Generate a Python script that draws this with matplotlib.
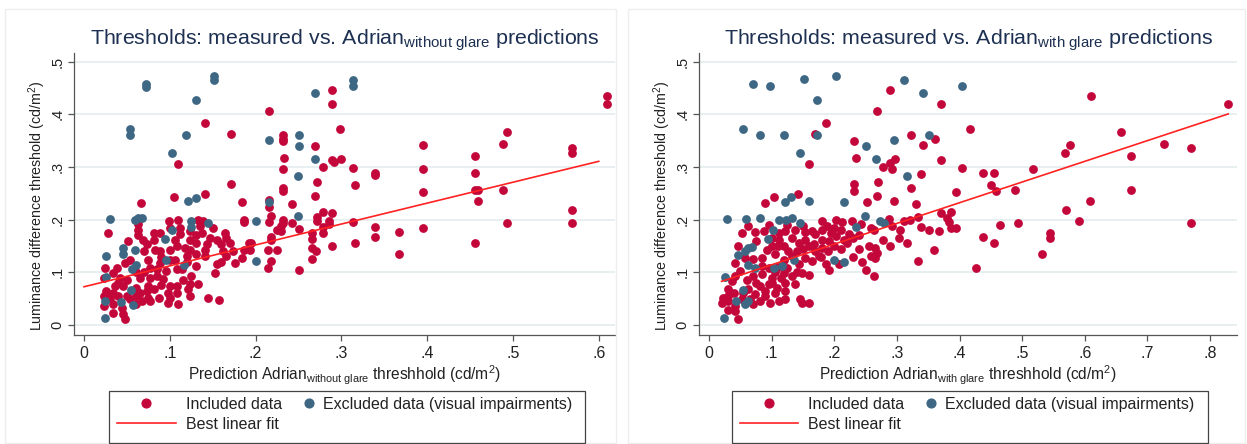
import numpy as np
import matplotlib
matplotlib.use("Agg")
import matplotlib.pyplot as plt
from matplotlib.lines import Line2D
from matplotlib.patches import Rectangle
from matplotlib.legend_handler import HandlerLine2D

plt.rcParams['font.family'] = ['Liberation Sans', 'DejaVu Sans']
plt.rcParams['mathtext.fontset'] = 'custom'
plt.rcParams['mathtext.rm'] = 'Liberation Sans'
plt.rcParams['mathtext.it'] = 'Liberation Sans:italic'

# measured threshold vs. Adrian prediction without glare, (prediction, measured)
left_included = [
    (0.289, 0.446), (0.289, 0.420), (0.216, 0.407), (0.298, 0.373), (0.232, 0.360), (0.232, 0.354),
    (0.232, 0.349), (0.269, 0.340), (0.233, 0.317), (0.291, 0.310), (0.289, 0.314), (0.299, 0.315),
    (0.279, 0.300), (0.313, 0.299), (0.232, 0.296), (0.339, 0.289), (0.339, 0.285), (0.395, 0.342),
    (0.395, 0.296), (0.395, 0.253), (0.395, 0.184), (0.456, 0.321), (0.456, 0.288), (0.456, 0.257),
    (0.459, 0.256), (0.459, 0.235), (0.456, 0.156), (0.488, 0.343), (0.493, 0.366), (0.488, 0.256),
    (0.493, 0.194), (0.569, 0.336), (0.569, 0.326), (0.569, 0.219), (0.569, 0.194), (0.610, 0.434),
    (0.610, 0.419), (0.272, 0.271), (0.316, 0.265), (0.232, 0.261), (0.232, 0.255), (0.269, 0.245),
    (0.216, 0.237), (0.216, 0.225), (0.242, 0.229), (0.218, 0.207), (0.216, 0.196), (0.232, 0.200),
    (0.232, 0.194), (0.230, 0.188), (0.230, 0.179), (0.242, 0.194), (0.225, 0.181), (0.251, 0.182),
    (0.272, 0.206), (0.272, 0.197), (0.279, 0.214), (0.289, 0.213), (0.285, 0.198), (0.285, 0.191),
    (0.279, 0.187), (0.279, 0.175), (0.266, 0.175), (0.266, 0.164), (0.313, 0.196), (0.339, 0.186),
    (0.339, 0.167), (0.367, 0.177), (0.367, 0.135), (0.316, 0.155), (0.289, 0.150), (0.218, 0.167),
    (0.218, 0.162), (0.195, 0.156), (0.214, 0.143), (0.225, 0.143), (0.266, 0.146), (0.271, 0.140),
    (0.266, 0.126), (0.218, 0.122), (0.214, 0.109), (0.251, 0.105),
    (0.141, 0.384), (0.171, 0.362),
    (0.110, 0.305), (0.171, 0.268), (0.141, 0.248), (0.105, 0.244), (0.066, 0.231), (0.184, 0.234),
    (0.186, 0.195), (0.186, 0.200), (0.099, 0.197), (0.110, 0.199), (0.133, 0.200), (0.139, 0.198),
    (0.028, 0.175), (0.063, 0.191), (0.063, 0.181), (0.063, 0.170), (0.081, 0.175), (0.088, 0.175),
    (0.112, 0.184), (0.112, 0.172), (0.100, 0.184), (0.123, 0.178), (0.135, 0.188), (0.137, 0.175),
    (0.164, 0.175), (0.147, 0.165), (0.155, 0.162), (0.160, 0.153), (0.166, 0.165), (0.051, 0.159),
    (0.069, 0.162), (0.073, 0.153), (0.083, 0.143), (0.089, 0.140), (0.106, 0.162), (0.108, 0.150),
    (0.124, 0.162), (0.124, 0.143), (0.131, 0.156), (0.141, 0.143), (0.143, 0.153), (0.120, 0.131),
    (0.162, 0.140), (0.166, 0.131), (0.174, 0.140), (0.192, 0.156), (0.193, 0.143), (0.186, 0.143),
    (0.176, 0.118), (0.184, 0.128), (0.141, 0.131), (0.131, 0.112), (0.155, 0.115), (0.089, 0.118),
    (0.100, 0.124), (0.106, 0.124), (0.075, 0.124), (0.048, 0.118), (0.054, 0.124), (0.038, 0.109),
    (0.077, 0.109), (0.085, 0.106), (0.096, 0.102), (0.108, 0.106), (0.114, 0.106), (0.125, 0.093),
    (0.123, 0.077), (0.133, 0.077), (0.153, 0.099), (0.024, 0.109), (0.023, 0.090), (0.034, 0.099),
    (0.042, 0.090), (0.065, 0.090), (0.077, 0.090), (0.085, 0.093), (0.092, 0.087), (0.100, 0.074),
    (0.108, 0.074), (0.081, 0.068), (0.061, 0.071), (0.036, 0.074), (0.046, 0.074), (0.026, 0.064),
    (0.034, 0.061), (0.040, 0.055), (0.023, 0.055), (0.030, 0.052), (0.050, 0.055), (0.054, 0.049),
    (0.065, 0.061), (0.073, 0.064), (0.075, 0.052), (0.067, 0.045), (0.077, 0.045), (0.087, 0.052),
    (0.098, 0.061), (0.100, 0.052), (0.108, 0.061), (0.098, 0.042), (0.110, 0.039), (0.121, 0.068),
    (0.123, 0.055), (0.145, 0.052), (0.157, 0.047), (0.034, 0.039), (0.044, 0.033), (0.046, 0.020),
    (0.048, 0.011), (0.023, 0.036), (0.034, 0.023), (0.061, 0.039), (0.075, 0.074), (0.100, 0.143),
    (0.118, 0.147), (0.081, 0.162), (0.130, 0.170), (0.150, 0.185), (0.120, 0.120), (0.090, 0.130),
    (0.070, 0.140), (0.060, 0.100), (0.070, 0.100), (0.050, 0.085), (0.040, 0.080), (0.130, 0.135),
    (0.160, 0.120), (0.170, 0.155), (0.115, 0.085), (0.090, 0.075), (0.060, 0.055),
]
left_excluded = [
    (0.313, 0.465), (0.313, 0.453), (0.269, 0.441), (0.216, 0.352), (0.251, 0.361), (0.251, 0.339),
    (0.269, 0.316), (0.250, 0.282), (0.216, 0.234), (0.250, 0.207), (0.200, 0.198), (0.200, 0.122),
    (0.072, 0.457), (0.072, 0.451), (0.152, 0.472), (0.152, 0.465), (0.131, 0.427), (0.054, 0.372),
    (0.054, 0.360), (0.119, 0.360), (0.102, 0.326), (0.121, 0.235), (0.131, 0.241), (0.030, 0.202),
    (0.059, 0.200), (0.063, 0.203), (0.068, 0.203), (0.125, 0.198), (0.125, 0.186), (0.145, 0.193),
    (0.102, 0.181), (0.094, 0.164), (0.046, 0.147), (0.059, 0.143), (0.046, 0.134), (0.026, 0.131),
    (0.095, 0.123), (0.116, 0.113), (0.061, 0.114), (0.056, 0.107), (0.026, 0.092), (0.055, 0.066),
    (0.024, 0.045), (0.043, 0.044), (0.057, 0.038), (0.024, 0.013),
]

# measured threshold vs. Adrian prediction with glare
right_included = [
    (0.159, 0.305), (0.234, 0.317), (0.231, 0.267), (0.231, 0.254), (0.253, 0.233), (0.104, 0.243),
    (0.142, 0.248), (0.090, 0.231), (0.063, 0.188), (0.052, 0.175), (0.074, 0.176), (0.087, 0.178),
    (0.111, 0.175), (0.122, 0.178), (0.138, 0.181), (0.154, 0.176), (0.164, 0.178), (0.180, 0.197),
    (0.188, 0.188), (0.202, 0.200), (0.212, 0.195), (0.228, 0.197), (0.242, 0.191), (0.258, 0.184),
    (0.194, 0.175), (0.202, 0.169), (0.191, 0.159), (0.215, 0.162), (0.223, 0.172), (0.170, 0.172),
    (0.180, 0.162), (0.167, 0.153), (0.180, 0.147), (0.255, 0.150), (0.258, 0.131), (0.250, 0.105),
    (0.207, 0.115), (0.132, 0.165), (0.143, 0.156), (0.154, 0.162), (0.111, 0.162), (0.119, 0.150),
    (0.092, 0.143), (0.100, 0.150), (0.084, 0.128), (0.106, 0.134), (0.119, 0.124), (0.132, 0.131),
    (0.143, 0.115), (0.154, 0.128), (0.164, 0.121), (0.175, 0.131), (0.186, 0.115), (0.191, 0.105),
    (0.148, 0.099), (0.159, 0.094), (0.047, 0.150), (0.058, 0.128), (0.042, 0.118), (0.050, 0.102),
    (0.042, 0.093), (0.036, 0.083), (0.071, 0.093), (0.084, 0.096), (0.100, 0.090), (0.119, 0.099),
    (0.132, 0.093), (0.082, 0.074), (0.095, 0.077), (0.108, 0.071), (0.122, 0.080), (0.138, 0.077),
    (0.063, 0.068), (0.074, 0.058), (0.090, 0.055), (0.106, 0.061), (0.122, 0.064), (0.031, 0.068),
    (0.023, 0.052), (0.021, 0.042), (0.031, 0.045), (0.042, 0.036), (0.052, 0.049), (0.071, 0.039),
    (0.082, 0.045), (0.098, 0.042), (0.111, 0.045), (0.122, 0.049), (0.146, 0.049), (0.159, 0.042),
    (0.148, 0.042), (0.031, 0.029), (0.047, 0.011), (0.042, 0.026), (0.186, 0.384), (0.170, 0.363),
    (0.232, 0.350), (0.292, 0.188),
    (0.100, 0.165), (0.110, 0.150), (0.126, 0.140), (0.140, 0.140), (0.150, 0.145), (0.160, 0.150),
    (0.170, 0.140), (0.178, 0.130), (0.190, 0.140), (0.200, 0.150), (0.210, 0.145), (0.220, 0.155),
    (0.230, 0.165), (0.240, 0.170), (0.200, 0.185), (0.180, 0.180), (0.210, 0.180), (0.150, 0.188),
    (0.125, 0.190), (0.095, 0.190), (0.075, 0.160), (0.085, 0.112), (0.095, 0.108), (0.110, 0.110),
    (0.125, 0.108), (0.140, 0.100), (0.070, 0.125), (0.060, 0.085), (0.075, 0.080), (0.090, 0.065),
    (0.100, 0.080), (0.055, 0.060), (0.040, 0.060), (0.030, 0.055), (0.065, 0.050), (0.115, 0.090),
    (0.105, 0.100), (0.240, 0.145), (0.230, 0.130), (0.245, 0.120),
    (0.289, 0.446), (0.268, 0.407), (0.371, 0.420), (0.416, 0.373), (0.322, 0.360), (0.361, 0.354),
    (0.342, 0.341), (0.371, 0.313), (0.297, 0.316), (0.289, 0.307), (0.292, 0.297), (0.278, 0.300),
    (0.404, 0.299), (0.338, 0.287), (0.438, 0.289), (0.455, 0.288), (0.450, 0.265), (0.459, 0.254),
    (0.394, 0.253), (0.488, 0.256), (0.517, 0.296), (0.569, 0.326), (0.576, 0.342), (0.658, 0.366),
    (0.727, 0.343), (0.769, 0.336), (0.674, 0.321), (0.674, 0.256), (0.610, 0.434), (0.829, 0.419),
    (0.769, 0.194), (0.608, 0.235), (0.570, 0.219), (0.591, 0.197), (0.545, 0.175), (0.545, 0.165),
    (0.531, 0.135), (0.493, 0.194), (0.464, 0.189), (0.438, 0.167), (0.455, 0.156), (0.427, 0.109),
    (0.270, 0.271), (0.268, 0.245), (0.296, 0.235), (0.322, 0.261), (0.331, 0.229), (0.371, 0.213),
    (0.386, 0.214), (0.380, 0.203), (0.383, 0.195), (0.394, 0.184), (0.386, 0.184), (0.367, 0.178),
    (0.351, 0.181), (0.338, 0.186), (0.334, 0.206), (0.321, 0.200), (0.311, 0.197), (0.305, 0.180),
    (0.303, 0.165), (0.316, 0.155), (0.360, 0.143), (0.334, 0.121), (0.289, 0.150), (0.278, 0.162),
    (0.287, 0.202), (0.264, 0.181), (0.264, 0.093), (0.265, 0.146), (0.268, 0.137), (0.265, 0.128),
]
right_excluded = [
    (0.071, 0.457), (0.097, 0.453), (0.152, 0.467), (0.202, 0.472), (0.172, 0.427), (0.054, 0.372),
    (0.081, 0.360), (0.119, 0.360), (0.173, 0.360), (0.146, 0.326), (0.250, 0.339), (0.312, 0.465),
    (0.342, 0.441), (0.404, 0.453), (0.296, 0.352), (0.351, 0.360), (0.267, 0.316), (0.316, 0.282),
    (0.273, 0.198), (0.279, 0.194), (0.131, 0.243), (0.122, 0.234), (0.159, 0.236), (0.215, 0.233),
    (0.029, 0.202), (0.059, 0.201), (0.082, 0.203), (0.111, 0.199), (0.123, 0.200), (0.133, 0.203),
    (0.146, 0.193), (0.102, 0.181), (0.249, 0.207), (0.234, 0.186), (0.094, 0.164), (0.063, 0.147),
    (0.068, 0.148), (0.046, 0.132), (0.058, 0.140), (0.063, 0.113), (0.074, 0.108), (0.103, 0.109),
    (0.116, 0.112), (0.135, 0.123), (0.199, 0.123), (0.215, 0.119), (0.026, 0.092), (0.054, 0.066),
    (0.043, 0.045), (0.058, 0.039), (0.063, 0.045), (0.024, 0.013),
]

# best linear fit: intercept, slope, x-range of the drawn line
left_fit = (0.0726, 0.397, 0.0, 0.600)
right_fit = (0.075, 0.393, 0.020, 0.829)

left_xticks = [0, 0.1, 0.2, 0.3, 0.4, 0.5, 0.6]
right_xticks = [0, 0.1, 0.2, 0.3, 0.4, 0.5, 0.6, 0.7, 0.8]
yticks = [0, 0.1, 0.2, 0.3, 0.4, 0.5]

RED = '#c3073b'
BLUE = '#3e6783'
FIT = '#ff2222'
TITLE = '#1e3152'
GRID = '#e5eef0'
INK = '#222222'

W, H = 1247, 444
LEG_FS = 11.5


class KeyHandler(HandlerLine2D):
    """Legend key whose line ends can be shifted (in font-size units).

    With a single point the marker sits in the middle of the key line, so
    shifting both ends by the same amount moves the marker.
    """

    def __init__(self, line_off=(0.0, 0.0), **kw):
        super().__init__(**kw)
        self.line_off = line_off

    def get_xdata(self, legend, xdescent, ydescent, width, height, fontsize):
        xdata, xm = super().get_xdata(legend, xdescent, ydescent, width, height, fontsize)
        a, b = self.line_off
        xdata = [xdata[0] + a * fontsize, xdata[-1] + b * fontsize]
        xm = [(xdata[0] + xdata[1]) / 2]
        return xdata, xm


def lbl(v):
    s = '%g' % v
    return s[1:] if s.startswith('0.') else s


def panel(ax, inc, exc, fit, xticks, xlim, sub, cx):
    inc = np.array(inc)
    exc = np.array(exc)
    ax.scatter(inc[:, 0], inc[:, 1], s=40, color=RED, linewidths=0, zorder=3)
    ax.scatter(exc[:, 0], exc[:, 1], s=40, color=BLUE, linewidths=0, zorder=4)
    b0, b1, xa, xb = fit
    xs = np.array([xa, xb])
    ax.plot(xs, b0 + b1 * xs, color=FIT, lw=1.2, zorder=5)

    ax.set_xlim(*xlim)
    ax.set_ylim(-0.019, 0.5165)
    ax.set_xticks(xticks)
    ax.set_xticklabels([lbl(v) for v in xticks])
    ax.set_yticks(yticks)
    ax.set_yticklabels([lbl(v) for v in yticks], rotation=90, va='center')
    ax.grid(axis='y', color=GRID, lw=1.3, zorder=0)
    ax.set_axisbelow(True)
    for side in ('top', 'right'):
        ax.spines[side].set_visible(False)
    for side in ('left', 'bottom'):
        ax.spines[side].set_color('#555555')
        ax.spines[side].set_linewidth(0.9)
    ax.tick_params(direction='out', length=4, width=0.9, color='#555555',
                   labelcolor=INK)
    ax.tick_params(axis='x', labelsize=11.5, pad=4)
    ax.tick_params(axis='y', labelsize=10.5, pad=3)

    s = sub.replace(' ', r'\ ')
    ax.set_title(r'Thresholds: measured vs. Adrian$_{\mathrm{%s}}$ predictions' % s,
                 fontsize=15.4, color=TITLE, pad=6)
    ax.set_xlabel(r'Prediction Adrian$_{\mathrm{%s}}$ threshhold (cd/m$^{2}$)' % s,
                  fontsize=11.2, color=INK, labelpad=2)
    ax.set_ylabel(r'Luminance difference threshold (cd/m$^{2}$)', fontsize=10.3, color=INK)
    # label's right edge ~26 px left of the axis line, centred a bit below mid-height
    pos = ax.get_position()
    ax.yaxis.set_label_coords(-26 / (pos.width * W), 0.457)

    # legend below the plot: frame drawn separately, keys placed by the handler offsets
    inc_key = Line2D([], [], ls='none', marker='o', ms=6.3, color=RED)
    fit_key = Line2D([], [], color=FIT, lw=1.2)
    exc_key = Line2D([], [], ls='none', marker='o', ms=6.3, color=BLUE)
    leg = ax.legend([inc_key, fit_key, exc_key],
                    ['Included data', 'Best linear fit', 'Excluded data (visual impairments)'],
                    ncol=2, loc='upper left',
                    bbox_to_anchor=((cx - 201) / W, 1 - 397 / H),
                    bbox_transform=ax.figure.transFigure,
                    fontsize=LEG_FS, frameon=False, borderpad=0, borderaxespad=0,
                    handlelength=2.0, handletextpad=0.5, columnspacing=0.05,
                    labelspacing=0.3, numpoints=1,
                    handler_map={inc_key: KeyHandler(line_off=(-1.0, -1.0)),
                                 fit_key: KeyHandler(line_off=(-1.815, -0.125)),
                                 exc_key: KeyHandler(line_off=(0.626, 0.626))})
    for t in leg.get_texts():
        t.set_color(INK)
    ax.figure.patches.append(Rectangle(((cx - 238) / W, 1 - 443 / H), 476 / W, 52 / H,
                                       transform=ax.figure.transFigure, fill=False,
                                       edgecolor='#444444', lw=0.9))


fig = plt.figure(figsize=(W / 100, H / 100), dpi=100)
ax1 = fig.add_axes([74 / W, 1 - 335 / H, 541 / W, 282 / H])
ax2 = fig.add_axes([699 / W, 1 - 335 / H, 538 / W, 282 / H])

panel(ax1, left_included, left_excluded, left_fit, left_xticks, (-0.0117, 0.619),
      'without glare', 347)
panel(ax2, right_included, right_excluded, right_fit, right_xticks, (-0.016, 0.843),
      'with glare', 969.5)

# faint frames around the two graph panels
for x0, x1 in ((5, 616), (628, 1245)):
    fig.patches.append(Rectangle((x0 / W, 1 - 443 / H), (x1 - x0) / W, 434 / H,
                                 transform=fig.transFigure, fill=False,
                                 edgecolor='#eeeeee', lw=1.0, zorder=0))

fig.savefig('out.png', dpi=100)
